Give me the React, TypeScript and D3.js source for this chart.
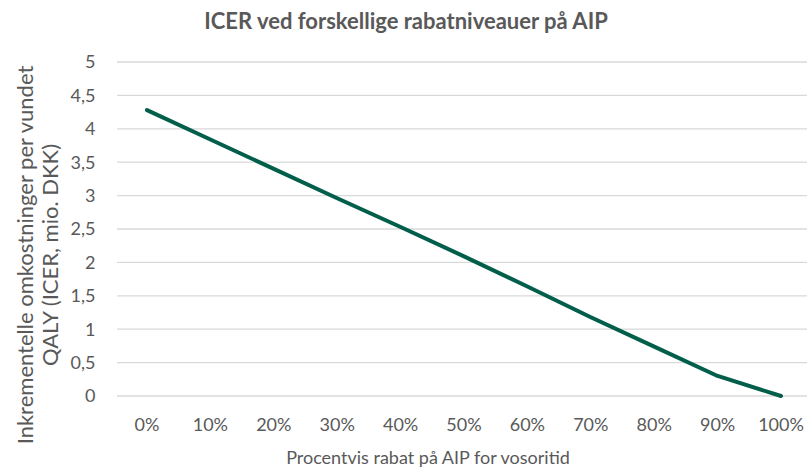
import React from "react";
import * as d3 from "d3";

const categories: string[] = ["0%", "10%", "20%", "30%", "40%", "50%", "60%", "70%", "80%", "90%", "100%"];
const icerValues: number[] = [4.28, 3.84, 3.4, 2.96, 2.53, 2.09, 1.64, 1.18, 0.74, 0.3, 0];
const yTicks: number[] = [0, 0.5, 1, 1.5, 2, 2.5, 3, 3.5, 4, 4.5, 5];
const title = "ICER ved forskellige rabatniveauer på AIP";
const xTitle = "Procentvis rabat på AIP for vosoritid";
const yTitleLines: string[] = ["Inkrementelle omkostninger per vundet", "QALY (ICER, mio. DKK)"];

const W = 807;
const H = 472;
const FONT = "Lato, 'Open Sans', sans-serif";
const TEXT = "#595959";

export default function App() {
  const x = d3.scalePoint<string>().domain(categories).range([115.3, 812.7]).padding(0.5);
  const y = d3.scaleLinear().domain([0, 5]).range([396, 62]);
  const line = d3
    .line<number>()
    .x((_, i) => x(categories[i]) as number)
    .y((d) => y(d));
  const fmt = (v: number) => String(v).replace(".", ",");
  const gridLeft = 117;
  const gridRight = 812;
  return (
    <svg
      width={W}
      height={H}
      style={{ position: "absolute", left: 0, top: 0, background: "#fff" }}
      fontFamily={FONT}
    >
      <rect x={0} y={0} width={W} height={H} fill="#fff" />
      <text x={406} y={29} textAnchor="middle" fontSize={22} fontWeight={700} fill={TEXT}>
        {title}
      </text>
      {yTicks.map((t) => (
        <g key={t}>
          <line x1={gridLeft} x2={gridRight} y1={y(t)} y2={y(t)} stroke="#d9d9d9" strokeWidth={1.3} />
          <text x={95.5} y={y(t)} dy="0.35em" textAnchor="end" fontSize={18} fill={TEXT}>
            {fmt(t)}
          </text>
        </g>
      ))}
      {categories.map((c) => (
        <text key={c} x={x(c) as number} y={425} dy="0.35em" textAnchor="middle" fontSize={18} fill={TEXT}>
          {c}
        </text>
      ))}
      <path d={line(icerValues) || ""} fill="none" stroke="#005e4b" strokeWidth={4} strokeLinejoin="round" strokeLinecap="round" />
      <text x={428} y={458} dy="0.35em" textAnchor="middle" fontSize={18} fill={TEXT}>
        {xTitle}
      </text>
      {yTitleLines.map((l, i) => (
        <text
          key={l}
          transform={`translate(${25 + i * 25},255) rotate(-90)`}
          dy="0.35em"
          textAnchor="middle"
          fontSize={22}
          fill={TEXT}
        >
          {l}
        </text>
      ))}
    </svg>
  );
}
